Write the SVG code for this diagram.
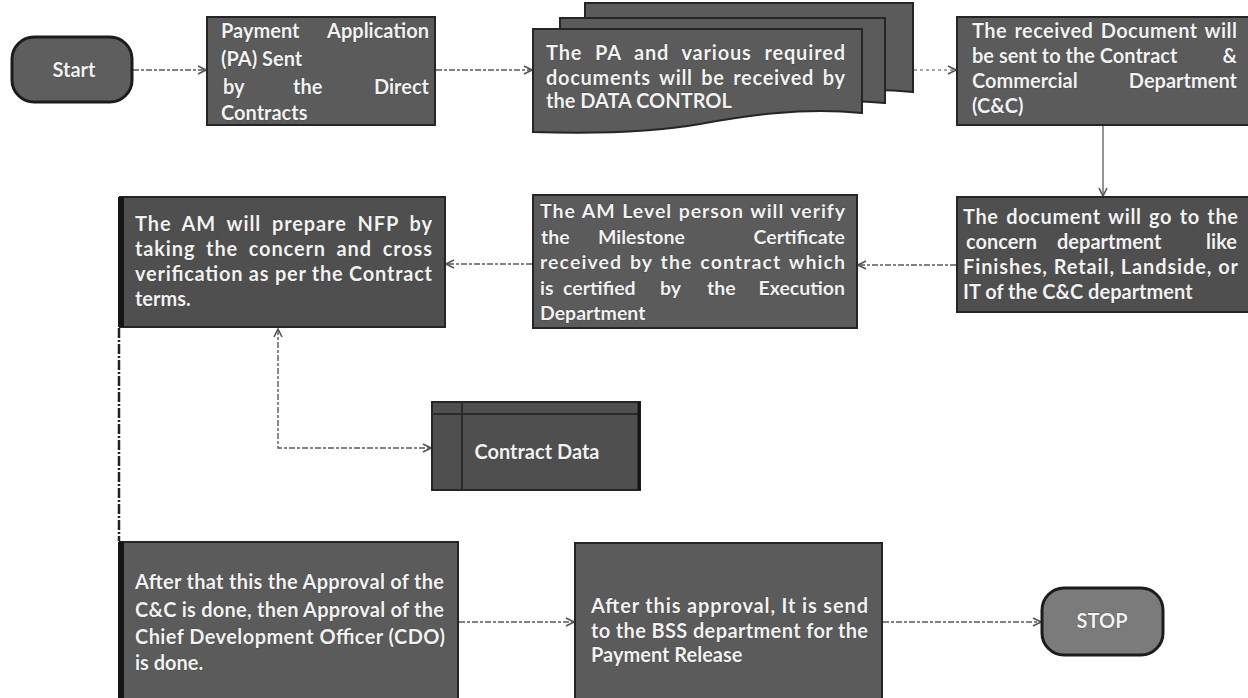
<svg xmlns="http://www.w3.org/2000/svg" width="1248" height="698" viewBox="0 0 1248 698">
  <defs>
    <style>
      .box { fill: #5b5b5b; stroke: #252525; stroke-width: 2; }
      .dark { fill: #4f4f4f; }
      .term { fill: #5e5e5e; stroke: #1c1c1c; stroke-width: 3; }
      .stop { fill: #7b7b7b; }
      .edge { stroke: #151515; stroke-width: 6; }
      .inner { stroke: #2a2a2a; stroke-width: 2; fill: none; }
      .t { font-family: Lato, "Open Sans", "Liberation Sans", sans-serif; font-weight: 700; font-size: 20px; fill: #f2f2f2; stroke: #303030; stroke-width: 0.6; paint-order: stroke; }
      .s { font-size: 19.5px; }
      .mid { text-anchor: middle; }
      .end { text-anchor: end; }
      .c { fill: none; stroke: #5a5a5a; stroke-width: 1.4; stroke-dasharray: 6 2 3 2; }
      .c.solid { stroke-dasharray: none; stroke: #666; }
      .c.light { stroke: #8a8a8a; stroke-dasharray: 3 3; }
      .c.heavy { stroke: #222; stroke-width: 2.5; stroke-dasharray: 10 2 2 2; }
    </style>
    <marker id="arr" viewBox="0 0 10 10" refX="9" refY="5" markerWidth="10" markerHeight="10" markerUnits="userSpaceOnUse" orient="auto-start-reverse">
      <path d="M1,1 L9,5 L1,9" fill="none" stroke="#555" stroke-width="1.6"/>
    </marker>
  </defs>

  <rect width="1248" height="698" fill="#ffffff"/>

  <!-- flow connectors -->
  <g id="connectors">
    <path class="c" d="M133,70 H206" marker-end="url(#arr)"/>
    <path class="c" d="M436,70 H532" marker-end="url(#arr)"/>
    <path class="c light" d="M914,70 H956" marker-end="url(#arr)"/>
    <path class="c solid" d="M1103,126 V196" marker-end="url(#arr)"/>
    <path class="c" d="M956,265 H858" marker-end="url(#arr)"/>
    <path class="c" d="M532,264 H446" marker-end="url(#arr)"/>
    <path class="c" d="M278,329 V448 H431" marker-start="url(#arr)" marker-end="url(#arr)"/>
    <path class="c heavy" d="M119,328 V541"/>
    <path class="c" d="M459,622 H574" marker-end="url(#arr)"/>
    <path class="c" d="M883,622 H1041" marker-end="url(#arr)"/>
  </g>

  <g id="start">
    <rect class="term" x="12" y="37" width="120" height="65" rx="22"/>
    <text class="t mid" x="74" y="77">Start</text>
  </g>

  <g id="pa-sent">
    <rect class="box" x="207" y="17" width="228" height="108"/>
    <text class="t" x="221" y="38">Payment</text>
    <text class="t end" x="429" y="38">Application</text>
    <text class="t" x="221" y="66">(PA) Sent</text>
    <text class="t" x="223" y="94">by</text>
    <text class="t" x="293" y="94">the</text>
    <text class="t end" x="429" y="94">Direct</text>
    <text class="t" x="221" y="120">Contracts</text>
  </g>

  <g id="data-control">
    <path class="box" d="M585,3 H913 V92 C860,86 800,94 760,101 C720,108 650,110 585,108 Z"/>
    <path class="box" d="M560,18 H885 V103 C830,97 770,106 730,113 C690,120 620,122 560,120 Z"/>
    <path class="box" d="M533,29 H862 V113 C800,107 745,116 700,124 C655,132 600,134 533,132 Z"/>
    <text class="t" x="546" y="60" style="word-spacing:7px" textLength="299" lengthAdjust="spacing">The PA and various required</text>
    <text class="t" x="546" y="85" style="word-spacing:3px" textLength="299" lengthAdjust="spacing">documents will be received by</text>
    <text class="t" x="546" y="108">the DATA CONTROL</text>
  </g>

  <g id="cc-dept">
    <rect class="box" x="957" y="17" width="293" height="108"/>
    <text class="t" x="972" y="38" style="word-spacing:2px" textLength="265" lengthAdjust="spacing">The received Document will</text>
    <text class="t" x="972" y="63">be sent to the Contract</text>
    <text class="t end" x="1237" y="63">&amp;</text>
    <text class="t" x="972" y="88">Commercial</text>
    <text class="t end" x="1237" y="88">Department</text>
    <text class="t" x="972" y="113">(C&amp;C)</text>
  </g>

  <g id="concern-dept">
    <rect class="box dark" x="957" y="197" width="293" height="115"/>
    <text class="t" x="963" y="224" style="word-spacing:2px" textLength="275" lengthAdjust="spacing">The document will go to the</text>
    <text class="t" x="966" y="249">concern</text>
    <text class="t" x="1057" y="249">department</text>
    <text class="t end" x="1237" y="249">like</text>
    <text class="t" x="963" y="274" textLength="275" lengthAdjust="spacing">Finishes, Retail, Landside, or</text>
    <text class="t" x="963" y="299">IT of the C&amp;C department</text>
  </g>

  <g id="am-verify">
    <rect class="box" x="533" y="195" width="324" height="133"/>
    <text class="t s" x="540" y="218" style="word-spacing:1px" textLength="305" lengthAdjust="spacing">The AM Level person will verify</text>
    <text class="t s" x="541" y="244">the</text>
    <text class="t s" x="598" y="244">Milestone</text>
    <text class="t s end" x="845" y="244">Certificate</text>
    <text class="t s" x="540" y="269" style="word-spacing:2px" textLength="305" lengthAdjust="spacing">received by the contract which</text>
    <text class="t s" x="540" y="295">is</text>
    <text class="t s" x="563" y="295">certified</text>
    <text class="t s" x="660" y="295">by</text>
    <text class="t s" x="707" y="295">the</text>
    <text class="t s end" x="845" y="295">Execution</text>
    <text class="t s" x="540" y="320">Department</text>
  </g>

  <g id="am-nfp">
    <rect class="box dark" x="120" y="197" width="325" height="130"/>
    <line class="edge" x1="121" y1="197" x2="121" y2="327"/>
    <text class="t" x="135" y="231" style="word-spacing:5px" textLength="297" lengthAdjust="spacing">The AM will prepare NFP by</text>
    <text class="t" x="135" y="256" style="word-spacing:5px" textLength="297" lengthAdjust="spacing">taking the concern and cross</text>
    <text class="t" x="135" y="281" textLength="297" lengthAdjust="spacing">verification as per the Contract</text>
    <text class="t" x="135" y="306">terms.</text>
  </g>

  <g id="contract-data">
    <rect class="box dark" x="432" y="402" width="208" height="88"/>
    <line class="inner" x1="462" y1="402" x2="462" y2="490"/>
    <line class="inner" x1="432" y1="414" x2="640" y2="414"/>
    <line class="edge" x1="639" y1="402" x2="639" y2="490" style="stroke-width:3"/>
    <text class="t mid" x="537" y="459">Contract Data</text>
  </g>

  <g id="approvals">
    <rect class="box" x="120" y="542" width="338" height="170"/>
    <line class="edge" x1="121" y1="542" x2="121" y2="698"/>
    <text class="t" x="135" y="589" textLength="309" lengthAdjust="spacing">After that this the Approval of the</text>
    <text class="t" x="135" y="617" textLength="309" lengthAdjust="spacing">C&amp;C is done, then Approval of the</text>
    <text class="t" x="135" y="644" textLength="310" lengthAdjust="spacing">Chief Development Officer (CDO)</text>
    <text class="t" x="135" y="670">is done.</text>
  </g>

  <g id="bss">
    <rect class="box" x="575" y="543" width="307" height="170"/>
    <text class="t" x="591" y="613" textLength="277" lengthAdjust="spacing">After this approval, It is send</text>
    <text class="t" x="591" y="638" textLength="277" lengthAdjust="spacing">to the BSS department for the</text>
    <text class="t" x="591" y="662">Payment Release</text>
  </g>

  <g id="stop">
    <rect class="term stop" x="1042" y="588" width="121" height="67" rx="22"/>
    <text class="t mid" x="1102" y="628">STOP</text>
  </g>
</svg>
